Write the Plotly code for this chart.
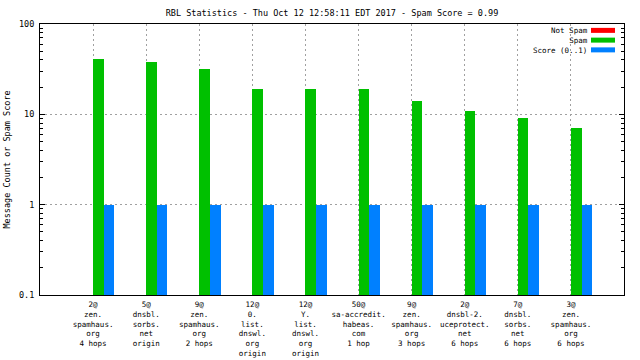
import plotly.graph_objects as go

# ---- data ----
categories = [
    "2@\nzen.\nspamhaus.\norg\n4 hops",
    "5@\ndnsbl.\nsorbs.\nnet\norigin",
    "9@\nzen.\nspamhaus.\norg\n2 hops",
    "12@\n0.\nlist.\ndnswl.\norg\norigin",
    "12@\nY.\nlist.\ndnswl.\norg\norigin",
    "50@\nsa-accredit.\nhabeas.\ncom\n1 hop",
    "9@\nzen.\nspamhaus.\norg\n3 hops",
    "2@\ndnsbl-2.\nuceprotect.\nnet\n6 hops",
    "7@\ndnsbl.\nsorbs.\nnet\n6 hops",
    "3@\nzen.\nspamhaus.\norg\n6 hops",
]
not_spam = [0, 0, 0, 0, 0, 0, 0, 0, 0, 0]
spam = [41, 38, 32, 19, 19, 19, 14, 11, 9, 7]
score = [1, 1, 1, 1, 1, 1, 1, 1, 1, 1]
series_names = ["Not Spam", "Spam", "Score (0..1)"]
ytick_vals = [0.1, 1, 10, 100]
ytick_text = ["0.1", "1", "10", "100"]
title_text = "RBL Statistics - Thu Oct 12 12:58:11 EDT 2017 - Spam Score = 0.99"
ytitle_text = "Message Count or Spam Score"

# ---- style ----
RED, GREEN, BLUE = "#ff0000", "#00c000", "#0080ff"
FONT = "DejaVu Sans Mono"
FS = 8.5
FS_SMALL = 7.5
W, H = 640, 360
L, R, T, B = 40, 16, 24, 65
PW, PH = W - L - R, H - T - B


def px2x(px):
    return (px - L) / PW


def py2y(py):
    return 1 - (py - T) / PH


idx = list(range(len(categories)))
bw = 0.2

fig = go.Figure()
for vals, name, col, off in [
    (not_spam, series_names[0], RED, -bw),
    (spam, series_names[1], GREEN, 0.0),
    (score, series_names[2], BLUE, bw),
]:
    fig.add_trace(go.Bar(
        x=idx, y=[v if v > 0 else None for v in vals], name=name,
        marker=dict(color=col, line=dict(width=0)),
        width=bw, offset=off, showlegend=False,
    ))

annotations = []
shapes = []

# custom gnuplot-style legend (text right, colour sample on the right)
leg_top = 25.0
pitch = FS_SMALL * 1.3
annotations.append(dict(
    x=px2x(589), xref="paper", y=py2y(leg_top), yref="paper",
    xanchor="right", yanchor="top", align="right",
    text="<br>".join(series_names), showarrow=False, borderpad=0,
    font=dict(family=FONT, size=FS_SMALL, color="black"),
))
for k, col in enumerate([RED, GREEN, BLUE]):
    yc = leg_top + pitch * (k + 0.5) + 0.5
    shapes.append(dict(
        type="rect", xref="paper", yref="paper",
        x0=px2x(591), x1=px2x(615), y0=py2y(yc - 2.5), y1=py2y(yc + 2.5),
        fillcolor=col, line=dict(width=0),
    ))

# y-axis title
annotations.append(dict(
    x=px2x(6), xref="paper", y=0.5, yref="paper", textangle=-90,
    xanchor="center", yanchor="middle", text=ytitle_text, showarrow=False,
    font=dict(family=FONT, size=FS, color="black"),
))

minor_vals = [m * 10 ** e for e in (-1, 0, 1) for m in range(2, 10)]

fig.update_layout(
    width=W, height=H,
    margin=dict(l=L, r=R, t=T, b=B, autoexpand=False),
    paper_bgcolor="white", plot_bgcolor="white",
    barmode="overlay", bargap=0,
    font=dict(family=FONT, size=FS, color="black"),
    title=dict(text=title_text, x=px2x(332), xref="paper", xanchor="center",
               y=1 - 13 / H, yref="container", yanchor="middle",
               font=dict(family=FONT, size=FS, color="black")),
    xaxis=dict(range=[-1, 10], tickvals=idx,
               ticktext=[c.replace("\n", "<br>") for c in categories],
               tickfont=dict(family=FONT, size=FS_SMALL, color="black"),
               ticklabelstandoff=2, automargin=False,
               showgrid=True, gridcolor="#a0a0a0", griddash="2px,3px", gridwidth=1,
               zeroline=False, showline=True, mirror=True, linecolor="black",
               linewidth=1, ticks=""),
    yaxis=dict(type="log", range=[-1, 2], tickvals=ytick_vals, ticktext=ytick_text,
               ticks="inside", ticklen=5, tickcolor="black", mirror="allticks",
               showline=True, linecolor="black", linewidth=1, automargin=False,
               showgrid=True, gridcolor="#a0a0a0", griddash="2px,3px", gridwidth=1,
               zeroline=False, ticklabelstandoff=3,
               minor=dict(tickvals=minor_vals, ticks="inside", ticklen=3,
                          tickcolor="black", showgrid=False)),
    annotations=annotations, shapes=shapes,
)

fig.write_html("out.html", config={"displayModeBar": False},
               post_script="document.body.style.margin='0px';document.body.style.padding='0px';")
